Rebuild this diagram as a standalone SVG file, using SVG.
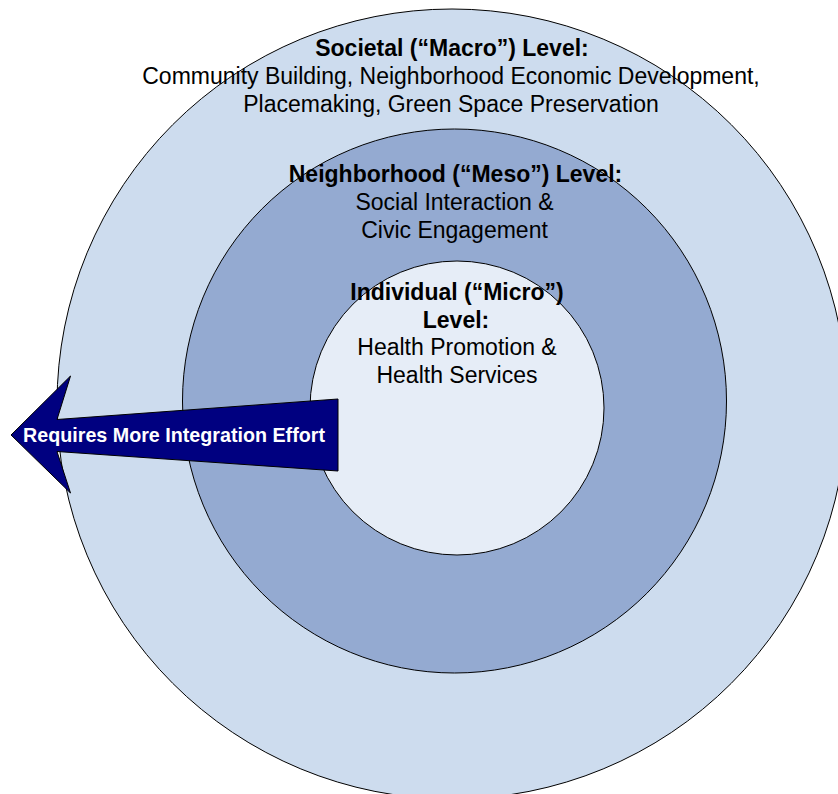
<svg xmlns="http://www.w3.org/2000/svg" width="838" height="794" viewBox="0 0 838 794">
<style>
.ring{stroke:#000;stroke-width:1}
text{font-family:"Liberation Sans",Arial,sans-serif;fill:#000;text-anchor:middle}
.lbl{font-size:23px}
.b{font-weight:bold}
.arr{font-size:19.7px;font-weight:bold;fill:#fff}
</style>
<rect width="838" height="794" fill="#fff"/>
<g id="macro">
<circle class="ring" cx="452" cy="404" r="395" fill="#cddcee"/>
</g>
<g id="meso">
<circle class="ring" cx="454.5" cy="401" r="272" fill="#94aad1"/>
</g>
<g id="micro">
<circle class="ring" cx="457" cy="408" r="147" fill="#e6edf7"/>
</g>
<g id="connectors">
<g id="arrow">
<polygon points="11,435 70.5,376 57,419.5 338,399 338,471 57,451.5 70.5,493" fill="#000080" stroke="#000" stroke-width="1"/>
<text class="arr" x="174" y="441.5">Requires More Integration Effort</text>
</g>
</g>
<g id="macro-label" class="lbl">
<text class="b" x="452" y="56">Societal (“Macro”) Level:</text>
<text x="451" y="84">Community Building, Neighborhood Economic Development,</text>
<text x="451" y="112">Placemaking, Green Space Preservation</text>
</g>
<g id="meso-label" class="lbl">
<text class="b" x="455.5" y="182">Neighborhood (“Meso”) Level:</text>
<text x="454.5" y="210">Social Interaction &amp;</text>
<text x="454.5" y="238">Civic Engagement</text>
</g>
<g id="micro-label" class="lbl">
<text class="b" x="457" y="300">Individual (“Micro”)</text>
<text class="b" x="456" y="328">Level:</text>
<text x="457" y="355">Health Promotion &amp;</text>
<text x="457" y="383">Health Services</text>
</g>
</svg>
